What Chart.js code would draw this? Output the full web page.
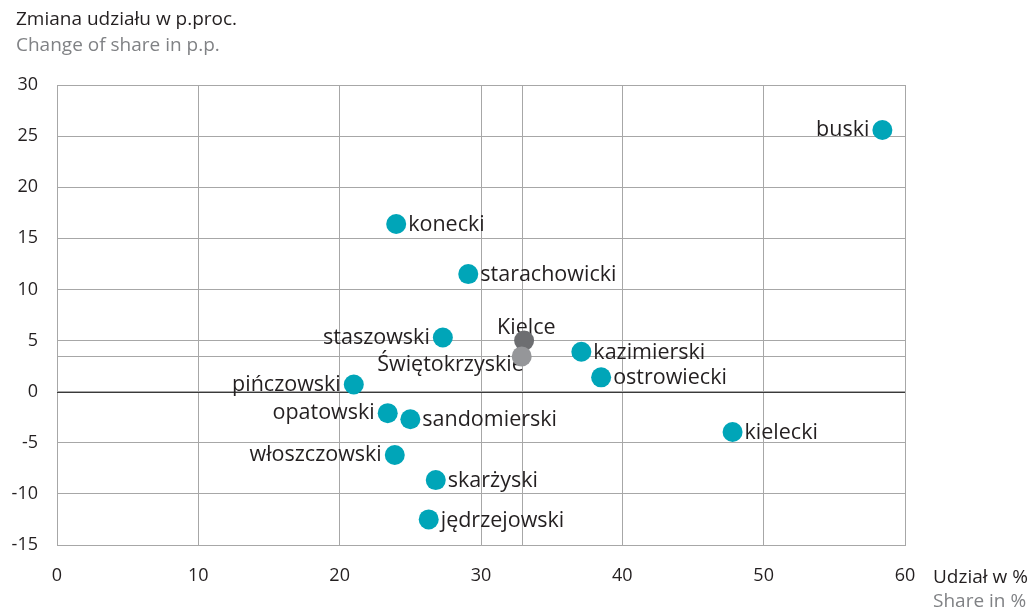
<!DOCTYPE html>
<html><head><meta charset="utf-8">
<script src="https://cdn.jsdelivr.net/npm/chart.js@4/dist/chart.umd.min.js"></script>
<style>html,body{margin:0;padding:0;background:#fff}#wrap{width:1029px;height:609px;position:relative}</style>
</head><body><div id="wrap"><canvas id="c"></canvas></div>
<script>
const names = ["buski","konecki","starachowicki","staszowski","Kielce","Świętokrzyskie","kazimierski","ostrowiecki","pińczowski","opatowski","sandomierski","kielecki","włoszczowski","skarżyski","jędrzejowski"];
const shares = [58.4, 24.0, 29.1, 27.3, 33.05, 32.88, 37.1, 38.5, 21.0, 23.4, 25.0, 47.8, 23.9, 26.8, 26.3];
const changes = [25.6, 16.4, 11.5, 5.3, 5.0, 3.45, 3.9, 1.4, 0.7, -2.1, -2.7, -3.95, -6.2, -8.65, -12.5];
const labelSide = ["left","right","right","left","above","belowleft","right","right","left","left","right","right","left","right","right"];
const xTicks = [0,10,20,30,40,50,60];
const yTicks = [-15,-10,-5,0,5,10,15,20,25,30];

const TEAL = "#00a5b8", DARK = "#6d6e71", GRAY = "#959699";
const colors = names.map(n => n === "Kielce" ? DARK : (n === "Świętokrzyskie" ? GRAY : TEAL));
const FONT = "'Open Sans', sans-serif";

const refIdx = names.indexOf("Świętokrzyskie");

const overlay = {
  id: "overlay",
  beforeDatasetsDraw(chart) {
    const ctx = chart.ctx, xs = chart.scales.x, ys = chart.scales.y, a = chart.chartArea;
    ctx.save();
    ctx.strokeStyle = "#a7a7a7"; ctx.lineWidth = 1;
    const rx = Math.round(xs.getPixelForValue(shares[refIdx])) + 0.5;
    const ry = Math.round(ys.getPixelForValue(changes[refIdx])) + 0.5;
    ctx.beginPath(); ctx.moveTo(rx, a.top); ctx.lineTo(rx, a.bottom); ctx.stroke();
    ctx.beginPath(); ctx.moveTo(a.left, ry); ctx.lineTo(a.right, ry); ctx.stroke();
    const zy = Math.round(ys.getPixelForValue(0)) + 0.5;
    ctx.strokeStyle = "#3a3a3a";
    ctx.beginPath(); ctx.moveTo(a.left, zy); ctx.lineTo(a.right, zy); ctx.stroke();
    ctx.font = "21.5px " + FONT; ctx.fillStyle = "#231f20"; ctx.textBaseline = "middle";
    names.forEach((n, i) => {
      const px = xs.getPixelForValue(shares[i]), py = ys.getPixelForValue(changes[i]);
      const s = labelSide[i];
      if (s === "right") { ctx.textAlign = "left"; ctx.fillText(n, px + 12, py + 1); }
      else if (s === "left") { ctx.textAlign = "right"; ctx.fillText(n, px - 13, py); }
      else if (s === "above") { ctx.textAlign = "left"; ctx.fillText(n, px - 27, py - 13); }
      else if (s === "belowleft") { ctx.textAlign = "right"; ctx.fillText(n, px + 2, py + 8); }
    });
    ctx.textBaseline = "alphabetic"; ctx.textAlign = "left";
    ctx.font = "19px " + FONT;
    ctx.fillStyle = "#231f20"; ctx.fillText("Zmiana udziału w p.proc.", 16, 25);
    ctx.fillStyle = "#808285"; ctx.fillText("Change of share in p.p.", 16, 51);
    ctx.fillStyle = "#231f20"; ctx.fillText("Udział w %", 933, 583);
    ctx.fillStyle = "#808285"; ctx.fillText("Share in %", 933, 607);
    ctx.restore();
  }
};

new Chart(document.getElementById("c"), {
  type: "scatter",
  data: { datasets: [{
    data: shares.map((s, i) => ({ x: s, y: changes[i] })),
    backgroundColor: colors, borderColor: colors, borderWidth: 0,
    pointRadius: 10, pointHoverRadius: 10
  }]},
  options: {
    responsive: true, maintainAspectRatio: false, animation: false,
    layout: { padding: { top: 85, right: 124, left: 0, bottom: 0 } },
    plugins: { legend: { display: false }, tooltip: { enabled: false } },
    scales: {
      x: {
        type: "linear", min: 0, max: 60,
        afterBuildTicks: s => { s.ticks = xTicks.map(v => ({ value: v })); },
        afterFit: s => { s.height = 64; },
        grid: { color: "#a7a7a7", lineWidth: 1, drawTicks: false },
        border: { color: "#a7a7a7" },
        ticks: { font: { family: FONT, size: 18 }, color: "#231f20", padding: 20, maxRotation: 0 }
      },
      y: {
        type: "linear", min: -15, max: 30,
        afterBuildTicks: s => { s.ticks = yTicks.map(v => ({ value: v })); },
        afterFit: s => { s.width = 57; },
        grid: { color: "#a7a7a7", lineWidth: 1, drawTicks: false },
        border: { color: "#a7a7a7" },
        ticks: { font: { family: FONT, size: 18 }, color: "#231f20", padding: 19 }
      }
    }
  },
  plugins: [overlay]
});
</script></body></html>
